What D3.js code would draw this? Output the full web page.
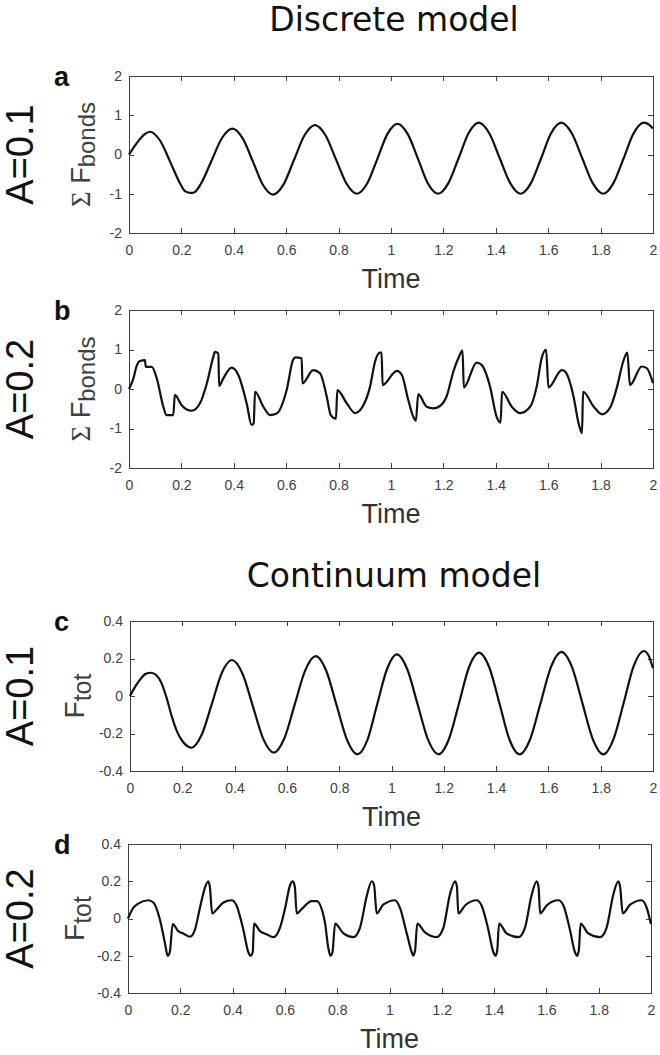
<!DOCTYPE html>
<html lang="en">
<head>
<meta charset="utf-8">
<title>Discrete and continuum model</title>
<script src="https://cdn.jsdelivr.net/npm/d3@7"></script>
<style>
  body { margin: 0; background: #fff; }
  svg { display: block; }
  .tick text { font-family: "Liberation Sans", Arial, sans-serif; font-size: 14px; fill: #404040; }
  .domain, .tick line { stroke: #404040; stroke-width: 1; shape-rendering: crispEdges; }
</style>
</head>
<body>
<div id="chart"></div>
<script>
// ---- data: [time, force] ----
const discreteA01 = [[0,0],[0.02,0.2],[0.04,0.38],[0.06,0.52],[0.08,0.58],[0.119,0.35],[0.158,-0.2],[0.196,-0.75],
  [0.215,-0.94],[0.235,-0.98],[0.25,-0.96],[0.275,-0.74],[0.315,-0.16],[0.355,0.42],[0.395,0.66],
  [0.434,0.41],[0.473,-0.18],[0.511,-0.77],[0.55,-1.02],[0.59,-0.76],[0.63,-0.135],[0.67,0.49],[0.71,0.75],
  [0.75,0.49],[0.79,-0.125],[0.83,-0.74],[0.87,-1.0],[0.909,-0.74],[0.948,-0.11],[0.986,0.52],[1.025,0.78],
  [1.064,0.52],[1.103,-0.11],[1.141,-0.74],[1.18,-1.0],[1.219,-0.73],[1.258,-0.095],[1.296,0.54],[1.335,0.81],
  [1.375,0.54],[1.415,-0.095],[1.455,-0.73],[1.495,-1.0],[1.534,-0.73],[1.573,-0.095],[1.611,0.54],[1.65,0.81],
  [1.69,0.54],[1.73,-0.095],[1.77,-0.73],[1.81,-1.0],[1.849,-0.73],[1.888,-0.095],[1.926,0.54],[1.965,0.81],
  [1.985,0.76],[2.0,0.66]];

const discreteA02 = [[0,0],[0.015,0.23],[0.03,0.6],[0.042,0.71],[0.061,0.73],[0.064,0.56],[0.087,0.56],[0.106,0.27],
  [0.131,-0.45],[0.143,-0.66],[0.169,-0.66],[0.175,-0.15],[0.201,-0.41],[0.239,-0.55],[0.271,-0.36],[0.297,0.14],
  [0.322,0.82],[0.328,0.94],[0.341,0.9],[0.344,0.08],[0.36,0.27],[0.392,0.54],[0.417,0.36],[0.449,-0.36],
  [0.468,-0.91],[0.476,-0.87],[0.481,-0.07],[0.513,-0.45],[0.538,-0.66],[0.564,-0.62],[0.602,-0.02],[0.627,0.75],
  [0.637,0.8],[0.659,0.78],[0.662,0.14],[0.703,0.48],[0.729,0.4],[0.755,-0.2],[0.77,-0.66],[0.79,-0.75],
  [0.795,-0.03],[0.831,-0.36],[0.863,-0.61],[0.894,-0.42],[0.92,0.06],[0.939,0.69],[0.958,0.92],[0.964,0.92],
  [0.968,0.1],[1.022,0.46],[1.041,0.36],[1.066,-0.28],[1.085,-0.7],[1.095,-0.8],[1.104,-0.13],[1.136,-0.45],
  [1.161,-0.49],[1.187,-0.43],[1.212,-0.19],[1.238,0.44],[1.257,0.78],[1.273,0.97],[1.278,0.04],[1.327,0.67],
  [1.346,0.61],[1.378,0.06],[1.403,-0.7],[1.418,-0.85],[1.424,-0.07],[1.461,-0.45],[1.493,-0.61],[1.531,-0.45],
  [1.556,0.06],[1.575,0.78],[1.592,0.99],[1.601,0.04],[1.652,0.48],[1.665,0.44],[1.697,-0.2],[1.716,-0.87],
  [1.729,-1.12],[1.733,-0.07],[1.774,-0.45],[1.806,-0.64],[1.838,-0.45],[1.863,0.06],[1.886,0.69],[1.902,0.92],
  [1.912,0.1],[1.957,0.57],[1.976,0.53],[2.0,0.15]];

const continuumA01 = [[0,0],[0.02,0.05],[0.04,0.09],[0.06,0.118],[0.08,0.124],[0.1,0.112],[0.12,0.07],[0.14,-0.01],
  [0.16,-0.11],[0.18,-0.19],[0.2,-0.24],[0.22,-0.268],[0.235,-0.276],[0.274,-0.207],[0.313,-0.042],[0.351,0.123],
  [0.39,0.192],[0.43,0.12],[0.47,-0.055],[0.51,-0.23],[0.55,-0.302],[0.59,-0.227],[0.63,-0.045],[0.67,0.137],
  [0.71,0.213],[0.75,0.136],[0.79,-0.049],[0.83,-0.234],[0.87,-0.311],[0.908,-0.234],[0.945,-0.045],[0.983,0.144],
  [1.02,0.222],[1.06,0.144],[1.1,-0.045],[1.14,-0.234],[1.18,-0.311],[1.219,-0.232],[1.258,-0.04],[1.296,0.152],
  [1.335,0.231],[1.374,0.152],[1.413,-0.04],[1.451,-0.232],[1.49,-0.311],[1.53,-0.231],[1.57,-0.038],[1.61,0.155],
  [1.65,0.235],[1.69,0.155],[1.73,-0.038],[1.77,-0.231],[1.81,-0.311],[1.849,-0.23],[1.888,-0.036],[1.926,0.159],
  [1.965,0.24],[1.985,0.21],[2.0,0.148]];

const continuumA02 = [[0,0],[0.02,0.057],[0.039,0.08],[0.078,0.098],[0.097,0.086],[0.122,-0.005],[0.141,-0.13],
  [0.152,-0.2],[0.16,-0.18],[0.171,-0.03],[0.192,-0.068],[0.211,-0.08],[0.237,-0.098],[0.256,-0.06],[0.275,0.057],
  [0.294,0.165],[0.307,0.2],[0.313,0.17],[0.322,0.027],[0.34,0.05],[0.365,0.086],[0.396,0.098],[0.415,0.07],
  [0.441,-0.06],[0.46,-0.18],[0.469,-0.2],[0.477,-0.18],[0.482,-0.027],[0.505,-0.068],[0.53,-0.085],[0.556,-0.1],
  [0.581,-0.05],[0.6,0.05],[0.62,0.18],[0.63,0.2],[0.638,0.17],[0.645,0.027],[0.664,0.05],[0.702,0.093],
  [0.721,0.093],[0.753,-0.02],[0.765,-0.15],[0.774,-0.2],[0.782,-0.18],[0.792,-0.027],[0.824,-0.08],[0.862,-0.1],
  [0.887,-0.05],[0.913,0.12],[0.932,0.2],[0.941,0.18],[0.951,0.027],[0.976,0.074],[1.021,0.098],[1.04,0.057],
  [1.066,-0.08],[1.085,-0.18],[1.091,-0.2],[1.098,-0.17],[1.106,-0.027],[1.136,-0.075],[1.18,-0.1],[1.206,-0.05],
  [1.231,0.129],[1.251,0.2],[1.258,0.17],[1.263,0.027],[1.289,0.07],[1.333,0.098],[1.352,0.07],[1.378,-0.06],
  [1.397,-0.18],[1.406,-0.2],[1.412,-0.17],[1.419,-0.027],[1.448,-0.08],[1.493,-0.1],[1.518,-0.05],[1.544,0.129],
  [1.563,0.2],[1.57,0.17],[1.576,0.027],[1.601,0.07],[1.646,0.098],[1.665,0.07],[1.69,-0.06],[1.709,-0.18],
  [1.718,-0.2],[1.724,-0.17],[1.731,-0.027],[1.76,-0.08],[1.805,-0.1],[1.83,-0.05],[1.856,0.129],[1.875,0.2],
  [1.882,0.17],[1.892,0.027],[1.92,0.074],[1.964,0.098],[1.983,0.06],[2.0,-0.03]];

const xTicks = [0, 0.2, 0.4, 0.6, 0.8, 1, 1.2, 1.4, 1.6, 1.8, 2];
const discreteYTicks = [-2, -1, 0, 1, 2];
const continuumYTicks = [-0.4, -0.2, 0, 0.2, 0.4];
const sectionTitles = ["Discrete model", "Continuum model"];
const ampLabels = ["A=0.1", "A=0.2", "A=0.1", "A=0.2"];
const panelLetters = ["a", "b", "c", "d"];

// ---- layout ----
const W = 660, H = 1055;
const panels = [
  { data: discreteA01, yDomain: [-2, 2], yTicks: discreteYTicks, kind: "bonds", left: 129, right: 653, top: 76, bottom: 233 },
  { data: discreteA02, yDomain: [-2, 2], yTicks: discreteYTicks, kind: "bonds", left: 129, right: 653, top: 310, bottom: 468 },
  { data: continuumA01, yDomain: [-0.4, 0.4], yTicks: continuumYTicks, kind: "tot", left: 130, right: 653, top: 621, bottom: 771 },
  { data: continuumA02, yDomain: [-0.4, 0.4], yTicks: continuumYTicks, kind: "tot", left: 128, right: 651, top: 844, bottom: 993 }
];

const svg = d3.select("#chart").append("svg")
  .attr("width", W).attr("height", H);

const sans = "'Liberation Sans', Arial, Helvetica, sans-serif";

svg.append("text").attr("x", 394).attr("y", 31).attr("text-anchor", "middle")
  .style("font-family", "'DejaVu Sans', Verdana, sans-serif").style("font-size", "33px").style("fill", "#111")
  .text(sectionTitles[0]);
svg.append("text").attr("x", 394).attr("y", 587).attr("text-anchor", "middle")
  .style("font-family", "'DejaVu Sans', Verdana, sans-serif").style("font-size", "33px").style("fill", "#111")
  .text(sectionTitles[1]);

const fmt = d => String(d);

panels.forEach((p, i) => {
  const x = d3.scaleLinear().domain([0, 2]).range([p.left, p.right]);
  const y = d3.scaleLinear().domain(p.yDomain).range([p.bottom, p.top]);
  const g = svg.append("g");

  // box with inward ticks on all sides
  g.append("g").attr("transform", `translate(0,${p.bottom})`)
    .call(d3.axisBottom(x).tickValues(xTicks).tickSize(-5).tickSizeOuter(0).tickPadding(12).tickFormat(fmt));
  g.append("g").attr("transform", `translate(0,${p.top})`)
    .call(d3.axisTop(x).tickValues(xTicks).tickSize(-5).tickSizeOuter(0).tickFormat(""));
  g.append("g").attr("transform", `translate(${p.left},0)`)
    .call(d3.axisLeft(y).tickValues(p.yTicks).tickSize(-5).tickSizeOuter(0).tickPadding(7).tickFormat(fmt));
  g.append("g").attr("transform", `translate(${p.right},0)`)
    .call(d3.axisRight(y).tickValues(p.yTicks).tickSize(-5).tickSizeOuter(0).tickFormat(""));
  g.selectAll("g").attr("font-family", null).attr("font-size", null);

  const line = d3.line()
    .x(d => x(d[0]))
    .y(d => y(d[1]))
    .curve(d3.curveMonotoneX);
  g.append("path").datum(p.data)
    .attr("d", line)
    .attr("fill", "none")
    .attr("stroke", "#111")
    .attr("stroke-width", 2.2)
    .attr("stroke-linejoin", "round");

  const cx = (p.left + p.right) / 2, cy = (p.top + p.bottom) / 2;

  // x label
  g.append("text").attr("x", cx).attr("y", p.bottom + 55).attr("text-anchor", "middle")
    .style("font-family", sans).style("font-size", "27px").style("fill", "#333")
    .text("Time");

  // panel letter
  g.append("text").attr("x", 54).attr("y", p.top + 10)
    .style("font-family", sans).style("font-size", "27px").style("font-weight", "bold").style("fill", "#111")
    .text(panelLetters[i]);

  // amplitude label
  g.append("text").attr("transform", `translate(33,${cy}) rotate(-90)`).attr("text-anchor", "middle")
    .style("font-family", sans).style("font-size", "38px").style("fill", "#111")
    .text(ampLabels[i]);

  // y label
  const yl = g.append("text").attr("transform", `translate(${p.kind === "bonds" ? 90 : 84},${cy}) rotate(-90)`)
    .attr("text-anchor", "middle")
    .style("font-family", sans).style("fill", "#404040");
  if (p.kind === "bonds") {
    yl.append("tspan").style("font-family", "'Liberation Serif', 'Times New Roman', serif").style("font-size", "27px").text("\u03A3");
    yl.append("tspan").style("font-size", "27px").text(" F");
    yl.append("tspan").attr("dy", 5).style("font-size", "24px").text("bonds");
  } else {
    yl.append("tspan").style("font-size", "28px").text("F");
    yl.append("tspan").attr("dy", 7).style("font-size", "25px").text("tot");
  }
});
</script>
</body>
</html>
